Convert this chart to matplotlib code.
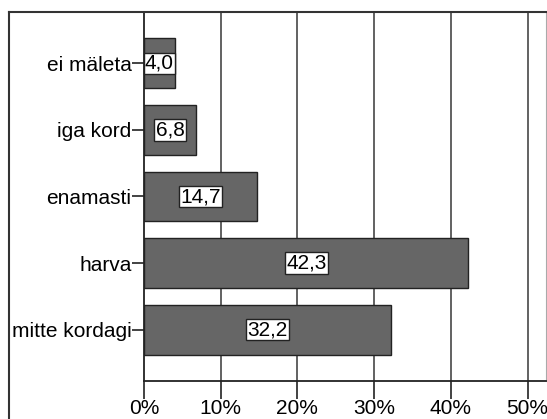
import numpy as np
import matplotlib.pyplot as plt
from matplotlib.lines import Line2D

plt.rcParams['font.family'] = ['Liberation Sans', 'DejaVu Sans']

### ~~~~~~~~~~~~~~~~~~~~~~~~~~~~~~~~~~~~~~~ ###
categories = ['ei mäleta', 'iga kord', 'enamasti', 'harva', 'mitte kordagi']
percents = [4.0, 6.8, 14.7, 42.3, 32.2]
xticks = [0, 10, 20, 30, 40, 50]
xticklabels = ['0%', '10%', '20%', '30%', '40%', '50%']

W, H = 547, 419
fig = plt.figure(figsize=(W / 100, H / 100), dpi=100)
ax = fig.add_axes([144 / W, (H - 381) / H, (546 - 144) / W, (381 - 12) / H])

### ~~~~~~~~~~~~~~~~~~~~~~~~~~~~~~~~~~~~~~~ ###
# outer frame (top and left)
fig.add_artist(Line2D([9 / W, 9 / W], [0, (H - 12) / H], color='#333333', lw=1.5))
fig.add_artist(Line2D([9 / W, 1], [(H - 12) / H, (H - 12) / H], color='#333333', lw=1.5))

ypos = np.arange(len(categories))
for x in xticks[1:]:
    ax.axvline(x, color='#555555', lw=1.3, zorder=1)

ax.barh(ypos, percents, height=0.75, color='#666666', edgecolor='#222222', lw=1.0, zorder=2)
for y, v in zip(ypos, percents):
    ax.text(v / 2, y, ('%.1f' % v).replace('.', ','), ha='center', va='center',
            fontsize=15, zorder=3,
            bbox=dict(boxstyle='square,pad=0.06', fc='white', ec='#222222', lw=1.0))

ax.set_xlim(0, (546 - 144) / 76.7 * 10)
ax.set_ylim(4.77, -0.77)
ax.set_yticks(ypos)
ax.set_yticklabels(categories, fontsize=15)
ax.set_xticks(xticks)
ax.set_xticklabels(xticklabels, fontsize=15)
ax.tick_params(axis='y', length=9, width=1.2, pad=0, color='#222222')
ax.tick_params(axis='x', length=13, width=1.2, pad=0, color='#222222')
for s in ['left', 'bottom', 'top']:
    ax.spines[s].set_color('#222222')
    ax.spines[s].set_linewidth(1.3)
ax.spines['right'].set_color('#aaaaaa')

plt.savefig('out.png', dpi=100)
